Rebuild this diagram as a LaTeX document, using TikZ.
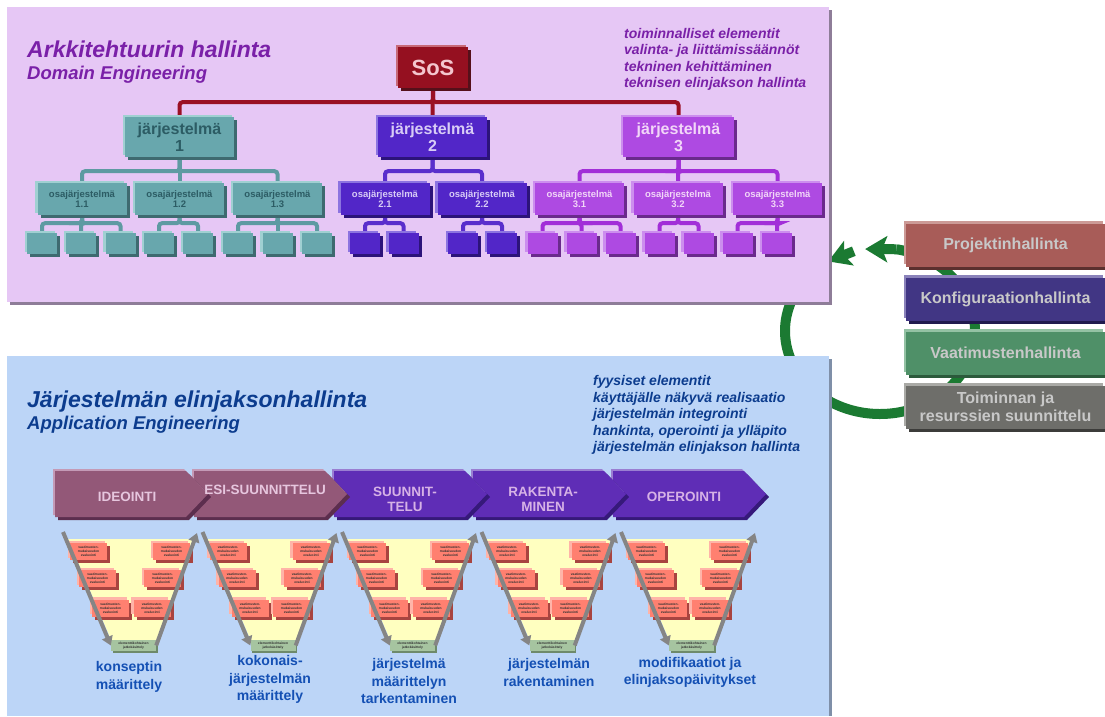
\documentclass[tikz,border=0pt]{standalone}
\usepackage{fontspec}
\setmainfont{Liberation Sans}
\usetikzlibrary{shadows,arrows.meta,calc}
\pgfdeclarelayer{bg}
\pgfdeclarelayer{mid}
\pgfsetlayers{bg,mid,main}

\definecolor{toppanel}{HTML}{E6C7F5}
\definecolor{topshadow}{HTML}{8E7D98}
\definecolor{botpanel}{HTML}{BCD5F7}
\definecolor{botshadow}{HTML}{7F8FA8}
\definecolor{titlepurple}{HTML}{7A20A8}
\definecolor{titleblue}{HTML}{0C3C8E}
\definecolor{labelblue}{HTML}{1450B4}
\definecolor{sosfill}{HTML}{951020}
\definecolor{soslight}{HTML}{C86A78}
\definecolor{sosdark}{HTML}{55101A}
\definecolor{sostext}{HTML}{F4C6CE}
\definecolor{redline}{HTML}{9A1024}
\definecolor{tealfill}{HTML}{68A7AD}
\definecolor{teallight}{HTML}{A0D0D2}
\definecolor{tealdark}{HTML}{3E6A70}
\definecolor{tealline}{HTML}{5E9AA2}
\definecolor{tealtext}{HTML}{2C5C64}
\definecolor{indfill}{HTML}{5226C8}
\definecolor{indlight}{HTML}{8C74E0}
\definecolor{inddark}{HTML}{2C137A}
\definecolor{indline}{HTML}{5A2ECC}
\definecolor{indtext}{HTML}{D8CCF6}
\definecolor{viofill}{HTML}{AE4AE2}
\definecolor{violight}{HTML}{CC8EEE}
\definecolor{viodark}{HTML}{6A2A8C}
\definecolor{violine}{HTML}{A22ED8}
\definecolor{viotext}{HTML}{F2D6F8}
\definecolor{projfill}{HTML}{A85C58}
\definecolor{projlight}{HTML}{CC9A96}
\definecolor{projdark}{HTML}{5C302E}
\definecolor{konffill}{HTML}{413684}
\definecolor{konflight}{HTML}{8A82BA}
\definecolor{konfdark}{HTML}{211A4E}
\definecolor{vaatfill}{HTML}{4F9068}
\definecolor{vaatlight}{HTML}{94C2A4}
\definecolor{vaatdark}{HTML}{2C5A3C}
\definecolor{toimfill}{HTML}{6E6E6A}
\definecolor{toimlight}{HTML}{AAAAA6}
\definecolor{toimdark}{HTML}{3C3C3A}
\definecolor{boxtext}{HTML}{C8C8C8}
\definecolor{mauvefill}{HTML}{935878}
\definecolor{mauvelight}{HTML}{C49AB6}
\definecolor{mauvedark}{HTML}{5C2E4E}
\definecolor{mauvetext}{HTML}{E6C6DE}
\definecolor{purpfill}{HTML}{5F2DB6}
\definecolor{purplight}{HTML}{9A7ED2}
\definecolor{purpdark}{HTML}{36197A}
\definecolor{purptext}{HTML}{D6B2E6}
\definecolor{funnelyellow}{HTML}{FFFFC0}
\definecolor{redfill}{HTML}{FF8070}
\definecolor{redlight}{HTML}{FFB4A8}
\definecolor{reddark}{HTML}{A84440}
\definecolor{greenfill}{HTML}{A6C4A0}
\definecolor{greendark}{HTML}{6E8A6A}
\definecolor{grayarrow}{HTML}{858585}
\definecolor{ringgreen}{HTML}{1B7A32}

\tikzset{
  solid3d/.style n args={3}{fill=#1, draw=none,
     general shadow={shadow xshift=-2.5pt, shadow yshift=2.5pt, fill=#2},
     general shadow={shadow xshift=3pt, shadow yshift=-3pt, fill=#3}},
  sosbox/.style={rectangle, inner sep=0pt, minimum width=70pt, minimum height=41pt,
     solid3d={sosfill}{soslight}{sosdark}, text=sostext, font=\bfseries\fontsize{22}{24}\selectfont},
  sysbox/.style={rectangle, inner sep=0pt, minimum width=109pt, minimum height=40pt,
     align=center, font=\bfseries\fontsize{16}{17}\selectfont},
  subbox/.style={rectangle, inner sep=0pt, minimum width=89pt, minimum height=32pt,
     align=center, font=\bfseries\fontsize{9.5}{9.5}\selectfont},
  leafbox/.style={rectangle, inner sep=0pt, minimum width=30pt, minimum height=21pt},
  teal3d/.style={solid3d={tealfill}{teallight}{tealdark}, text=tealtext},
  ind3d/.style={solid3d={indfill}{indlight}{inddark}, text=indtext},
  vio3d/.style={solid3d={viofill}{violight}{viodark}, text=viotext},
  conn/.style={line width=4pt, rounded corners=3pt},
  sideboxbase/.style={rectangle, inner sep=0pt, minimum width=199pt, minimum height=43pt,
     align=center, text=boxtext, font=\bfseries\fontsize{16}{18}\selectfont},
  titlebig/.style={anchor=base west, inner sep=0pt, font=\bfseries\itshape\fontsize{23}{27}\selectfont},
  titlesmall/.style={anchor=base west, inner sep=0pt, font=\bfseries\itshape\fontsize{18.5}{22}\selectfont},
  listline/.style={anchor=base west, inner sep=0pt, font=\bfseries\itshape\fontsize{14}{16.5}\selectfont},
  chevtext/.style={inner sep=0pt, align=center, font=\bfseries\fontsize{13.5}{15}\selectfont},
  redbox/.style={rectangle, inner sep=0pt, minimum width=37pt, minimum height=17pt, align=center,
     solid3d={redfill}{redlight}{reddark}, text=black!80, font=\bfseries\fontsize{3.3}{4}\selectfont},
  greenbox/.style={rectangle, inner sep=0pt, minimum width=45pt, minimum height=11pt, align=center,
     fill=greenfill, general shadow={shadow xshift=1.5pt, shadow yshift=-1.5pt, fill=greendark},
     text=black!80, font=\bfseries\fontsize{3.3}{4}\selectfont},
  grayarr/.style={draw=grayarrow, line width=4pt, -{Triangle[length=9pt,width=11pt]}},
  flabel/.style={inner sep=0pt, align=center, text=labelblue, font=\bfseries\fontsize{14}{17.5}\selectfont},
  ringstyle/.style={draw=ringgreen, line width=10pt},
  ringtip/.style={-{Stealth[length=22pt,width=26pt,inset=5pt]}}
}

\begin{document}
\begin{tikzpicture}[x=1pt,y=-1pt]
\useasboundingbox (0,0) rectangle (1105,716);

% ---------------- background: ring and panels ----------------
\begin{pgfonlayer}{bg}
\fill[white] (0,0) rectangle (1105,716);
\draw[ringstyle] plot[domain=-152:-440, samples=160, smooth, variable=\t]
   ({880+95*cos(\t)},{331+83*sin(\t)});
\coordinate (r1s) at ({880+95*cos(-80)},{331+83*sin(-80)});
\coordinate (r1e) at ({880+95*cos(-99)},{331+83*sin(-99)});
\coordinate (r2s) at ({880+95*cos(-106)},{331+83*sin(-106)});
\coordinate (r2e) at ({880+95*cos(-123)},{331+83*sin(-123)});
\draw[ringstyle,ringtip] (r1s) -- (r1e);
\draw[ringstyle,ringtip] (r2s) -- (r2e);
\fill[topshadow] (10,10) rectangle (832,305);
\fill[toppanel] (7,7) rectangle (829,302);
\fill[botshadow] (10,359) rectangle (832,716);
\fill[botpanel] (7,356) rectangle (829,716);
\end{pgfonlayer}

% ---------------- top panel texts ----------------
\node[titlebig, text=titlepurple] (ttop1) at (27,57) {Arkkitehtuurin hallinta};
\node[titlesmall, text=titlepurple] (ttop2) at (27,79) {Domain Engineering};
\node[listline, text=titlepurple] (tl1) at (624,38) {toiminnalliset elementit};
\node[listline, text=titlepurple] (tl2) at (624,54.5) {valinta- ja liittämissäännöt};
\node[listline, text=titlepurple] (tl3) at (624,71) {tekninen kehittäminen};
\node[listline, text=titlepurple] (tl4) at (624,87.5) {teknisen elinjakson hallinta};

% ---------------- tree ----------------
\node[sosbox] (sos) at (433,67.5) {SoS};
\node[sysbox, teal3d] (sys1) at (179.5,137) {järjestelmä\\1};
\node[sysbox, ind3d] (sys2) at (432.5,137) {järjestelmä\\2};
\node[sysbox, vio3d, minimum width=111pt] (sys3) at (678.5,137) {järjestelmä\\3};

\node[subbox, teal3d] (sub11) at (82,199) {osajärjestelmä\\1.1};
\node[subbox, teal3d] (sub12) at (179.5,199) {osajärjestelmä\\1.2};
\node[subbox, teal3d] (sub13) at (277.5,199) {osajärjestelmä\\1.3};
\node[subbox, ind3d] (sub21) at (385,199) {osajärjestelmä\\2.1};
\node[subbox, ind3d] (sub22) at (482,199) {osajärjestelmä\\2.2};
\node[subbox, vio3d] (sub31) at (579.5,199) {osajärjestelmä\\3.1};
\node[subbox, vio3d] (sub32) at (678,199) {osajärjestelmä\\3.2};
\node[subbox, vio3d] (sub33) at (777.5,199) {osajärjestelmä\\3.3};

\node[leafbox, teal3d] (l11a) at (42,243.5) {};
\node[leafbox, teal3d] (l11b) at (81,243.5) {};
\node[leafbox, teal3d] (l11c) at (120.5,243.5) {};
\node[leafbox, teal3d] (l12a) at (159,243.5) {};
\node[leafbox, teal3d] (l12b) at (198,243.5) {};
\node[leafbox, teal3d] (l13a) at (238,243.5) {};
\node[leafbox, teal3d] (l13b) at (277.5,243.5) {};
\node[leafbox, teal3d] (l13c) at (317,243.5) {};
\node[leafbox, ind3d] (l21a) at (365,243.5) {};
\node[leafbox, ind3d] (l21b) at (403.5,243.5) {};
\node[leafbox, ind3d] (l22a) at (463,243.5) {};
\node[leafbox, ind3d] (l22b) at (502,243.5) {};
\node[leafbox, vio3d] (l31a) at (542.5,243.5) {};
\node[leafbox, vio3d] (l31b) at (581.5,243.5) {};
\node[leafbox, vio3d] (l31c) at (620.5,243.5) {};
\node[leafbox, vio3d] (l32a) at (659.5,243.5) {};
\node[leafbox, vio3d] (l32b) at (698.5,243.5) {};
\node[leafbox, vio3d] (l33a) at (737.5,243.5) {};
\node[leafbox, vio3d] (l33b) at (777,243.5) {};

\begin{pgfonlayer}{mid}
\draw[conn, draw=redline] (sos.south) -- ++(0,14) -| (sys1.north);
\draw[conn, draw=redline] (sos.south) -- ++(0,14) -| (sys3.north);
\draw[conn, draw=redline] (sos.south) -- (sys2.north);
\foreach \s in {sub11,sub12,sub13}{\draw[conn, draw=tealline] (sys1.south) -- ++(0,14) -| (\s.north);}
\foreach \s in {sub21,sub22}{\draw[conn, draw=indline] (sys2.south) -- ++(0,14) -| (\s.north);}
\foreach \s in {sub31,sub32,sub33}{\draw[conn, draw=violine] (sys3.south) -- ++(0,14) -| (\s.north);}
\foreach \p/\l in {sub11/l11a,sub11/l11b,sub11/l11c,sub12/l12a,sub12/l12b,sub13/l13a,sub13/l13b,sub13/l13c}
  {\draw[conn, draw=tealline] (\p.south) -- ++(0,8) -| (\l.north);}
\foreach \p/\l in {sub21/l21a,sub21/l21b,sub22/l22a,sub22/l22b}
  {\draw[conn, draw=indline] (\p.south) -- ++(0,8) -| (\l.north);}
\foreach \p/\l in {sub31/l31a,sub31/l31b,sub31/l31c,sub32/l32a,sub32/l32b,sub33/l33a,sub33/l33b}
  {\draw[conn, draw=violine] (\p.south) -- ++(0,8) -| (\l.north);}
\end{pgfonlayer}

% ---------------- side boxes ----------------
\node[sideboxbase, solid3d={projfill}{projlight}{projdark}] (proj) at (1005.5,245) {Projektinhallinta};
\node[sideboxbase, solid3d={konffill}{konflight}{konfdark}] (konf) at (1005.5,299) {Konfiguraationhallinta};
\node[sideboxbase, solid3d={vaatfill}{vaatlight}{vaatdark}] (vaat) at (1005.5,353) {Vaatimustenhallinta};
\node[sideboxbase, solid3d={toimfill}{toimlight}{toimdark}] (toim) at (1005.5,407) {Toiminnan ja\\resurssien suunnittelu};

% ---------------- bottom panel texts ----------------
\node[titlebig, text=titleblue] (tbot1) at (27,407) {Järjestelmän elinjaksonhallinta};
\node[titlesmall, text=titleblue] (tbot2) at (27,429) {Application Engineering};
\node[listline, text=titleblue] (bl1) at (593,385.5) {fyysiset elementit};
\node[listline, text=titleblue] (bl2) at (593,402) {käyttäjälle näkyvä realisaatio};
\node[listline, text=titleblue] (bl3) at (593,418.5) {järjestelmän integrointi};
\node[listline, text=titleblue] (bl4) at (593,435) {hankinta, operointi ja ylläpito};
\node[listline, text=titleblue] (bl5) at (593,451.5) {järjestelmän elinjakson hallinta};

% ---------------- chevrons ----------------
\foreach \L/\fc/\lc/\dc in {613/purpfill/purplight/purpdark, 473/purpfill/purplight/purpdark,
   334/purpfill/purplight/purpdark, 194/mauvefill/mauvelight/mauvedark, 55/mauvefill/mauvelight/mauvedark}{
  \fill[fill=\dc] ({\L+3},474) -- ({\L+134},474) -- ({\L+156},497) -- ({\L+134},520) -- ({\L+3},520) -- cycle;
  \fill[fill=\lc] ({\L-2},469) -- ({\L+129},469) -- ({\L+151},492) -- ({\L+129},515) -- ({\L-2},515) -- cycle;
  \fill[fill=\fc] (\L,471) -- ({\L+131},471) -- ({\L+153},494) -- ({\L+131},517) -- (\L,517) -- cycle;
}
\node[chevtext, text=mauvetext] (ch1) at (127,497) {IDEOINTI};
\node[chevtext, text=mauvetext] (ch2) at (265,490) {ESI-SUUNNITTELU};
\node[chevtext, text=purptext] (ch3) at (405,499) {SUUNNIT-\\TELU};
\node[chevtext, text=purptext] (ch4) at (543,499) {RAKENTA-\\MINEN};
\node[chevtext, text=purptext] (ch5) at (684,497) {OPEROINTI};

% ---------------- funnels ----------------
\foreach \i/\fx in {1/63, 2/202.5, 3/342, 4/481.5, 5/621}{
  \fill[funnelyellow] ({\fx+5},539) -- ({\fx+130},539) -- ({\fx+94},642) -- ({\fx+49},642) -- cycle;
  \node[redbox] (r\i-1) at ({\fx+25.5},551.5) {vaatimusten-\\mukaisuuden\\evaluointi};
  \node[redbox] (r\i-2) at ({\fx+108.5},551.5) {vaatimusten-\\mukaisuuden\\evaluointi};
  \node[redbox] (r\i-3) at ({\fx+34.5},578.5) {vaatimusten-\\mukaisuuden\\evaluointi};
  \node[redbox] (r\i-4) at ({\fx+99.5},578.5) {vaatimusten-\\mukaisuuden\\evaluointi};
  \node[redbox] (r\i-5) at ({\fx+47.5},608) {vaatimusten-\\mukaisuuden\\evaluointi};
  \node[redbox] (r\i-6) at ({\fx+89},608) {vaatimusten-\\mukaisuuden\\evaluointi};
  \node[greenbox] (g\i) at ({\fx+70.5},645.5) {elementtikohtainen\\jatkokäsittely};
  \coordinate (ls\i) at (\fx,532);
  \coordinate (rt\i) at ({\fx+134},533);
  \draw[grayarr] (ls\i) -- (g\i.west);
  \draw[grayarr] (g\i.east) -- (rt\i);
}
\node[flabel] (lab1) at (129,677) {konseptin\\määrittely};
\node[flabel] (lab2) at (270,679.5) {kokonais-\\järjestelmän\\määrittely};
\node[flabel] (lab3) at (409,681) {järjestelmä\\määrittelyn\\tarkentaminen};
\node[flabel] (lab4) at (549,672.5) {järjestelmän\\rakentaminen};
\node[flabel] (lab5) at (690,672.5) {modifikaatiot ja\\elinjaksopäivitykset};
\end{tikzpicture}
\end{document}
